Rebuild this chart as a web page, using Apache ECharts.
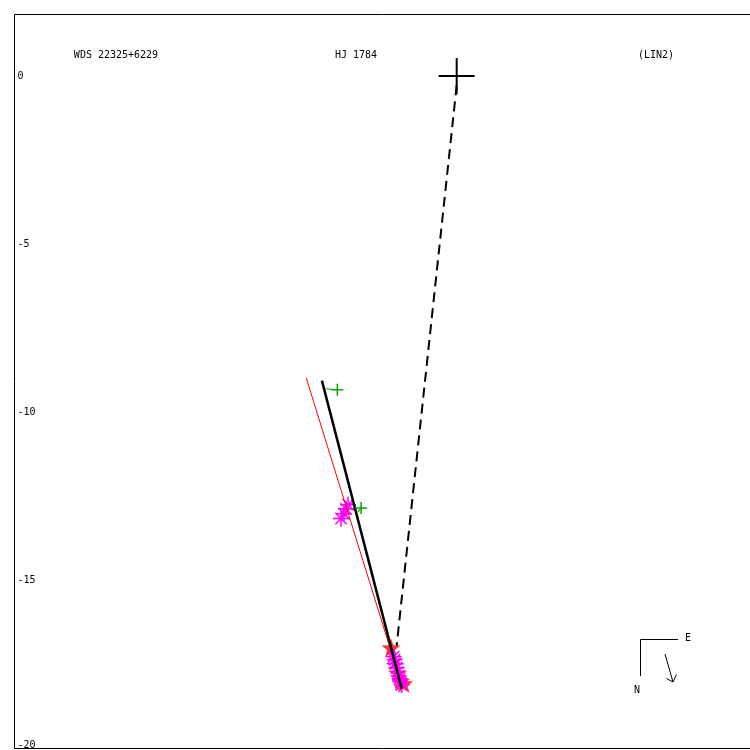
<!DOCTYPE html>
<html><head><meta charset="utf-8">
<script src="https://cdn.jsdelivr.net/npm/echarts@6/dist/echarts.min.js"></script>
<style>html,body{margin:0;padding:0;background:#fff}#c{width:750px;height:750px}</style>
</head><body><div id="c"></div>
<script>
// ---- data (arcsec) ----
const yTicks = [0, -5, -10, -15, -20];
const primary = [[0, 0]];
const orbitLine = [[-4.02, -9.06], [-1.64, -18.22]];
const fitLine = [[-4.49, -8.97], [-1.73, -17.84]];
const nodeLine = [[0, -0.28], [-1.79, -16.94]];
const greenObs = [[-3.56, -9.33], [-2.85, -12.85]];
const greenCalc = [[-3.91, -9.30], [-2.95, -12.96]];
const magentaObs = [
  [-3.24, -12.75], [-3.30, -12.87], [-3.36, -13.02], [-3.45, -13.16],
  [-1.88, -17.27], [-1.85, -17.36], [-1.82, -17.48], [-1.79, -17.60], [-1.76, -17.72],
  [-1.73, -17.84], [-1.70, -17.93], [-1.67, -18.02], [-1.64, -18.11], [-1.85, -17.47]
];
const redObs = [[-1.96, -17.00], [-1.76, -17.75], [-1.67, -17.99], [-1.58, -18.07]];
const titles = ['WDS 22325+6229', 'HJ 1784', '(LIN2)'];

const FONT = '"DejaVu Sans Mono", monospace';
const chart = echarts.init(document.getElementById('c'), null, {renderer: 'canvas'});

function crossItem(half, width, color) {
  return function (params, api) {
    const p = api.coord([api.value(0), api.value(1)]);
    return {type: 'group', children: [
      {type: 'line', shape: {x1: p[0] - half, y1: p[1], x2: p[0] + half, y2: p[1]}, style: {stroke: color, lineWidth: width}},
      {type: 'line', shape: {x1: p[0], y1: p[1] - half, x2: p[0], y2: p[1] + half}, style: {stroke: color, lineWidth: width}}
    ]};
  };
}
function asteriskItem(params, api) {
  const p = api.coord([api.value(0), api.value(1)]);
  const r = 8, d = r * 0.7071;
  const st = {stroke: '#ff00ff', lineWidth: 1.5};
  return {type: 'group', children: [
    {type: 'line', shape: {x1: p[0] - r, y1: p[1], x2: p[0] + r, y2: p[1]}, style: st},
    {type: 'line', shape: {x1: p[0], y1: p[1] - r, x2: p[0], y2: p[1] + r}, style: st},
    {type: 'line', shape: {x1: p[0] - d, y1: p[1] - d, x2: p[0] + d, y2: p[1] + d}, style: st},
    {type: 'line', shape: {x1: p[0] - d, y1: p[1] + d, x2: p[0] + d, y2: p[1] - d}, style: st}
  ]};
}
function residualItem(params, api) {
  const a = api.coord([api.value(0), api.value(1)]);
  const b = api.coord([api.value(2), api.value(3)]);
  return {type: 'line', shape: {x1: a[0], y1: a[1], x2: b[0], y2: b[1]}, style: {stroke: '#00aa00', lineWidth: 1.2}};
}

const starPath = 'path://M0,-10L2.35,-3.24L9.51,-3.09L3.8,1.24L5.88,8.09L0,4L-5.88,8.09L-3.8,1.24L-9.51,-3.09L-2.35,-3.24Z';

chart.setOption({
  animation: false,
  backgroundColor: '#fff',
  grid: {left: 14.5, top: 14.5, right: -2, bottom: 1.5, show: false},
  xAxis: {type: 'value', min: -13.19, max: 8.75, show: false},
  yAxis: {
    type: 'value', min: -20, max: 1.83, interval: 5,
    axisLine: {show: false}, axisTick: {show: false}, splitLine: {show: false},
    axisLabel: {
      inside: true, margin: 3, color: '#000', fontFamily: FONT, fontSize: 10,
      showMaxLabel: false,
      formatter: v => (yTicks.indexOf(v) >= 0 ? (v === -20 ? '{b|-20}' : String(v)) : ''),
      rich: {b: {fontFamily: FONT, fontSize: 10, color: '#000', padding: [0, 0, 7, 0]}}
    }
  },
  series: [
    {type: 'scatter', data: redObs, symbol: starPath, symbolSize: 19, itemStyle: {color: '#ff0000'}, z: 2},
    {type: 'custom', data: magentaObs, renderItem: asteriskItem, z: 3},
    {type: 'line', data: fitLine, symbol: 'none', lineStyle: {color: '#ff0000', width: 1}, z: 4},
    {type: 'line', data: orbitLine, symbol: 'none', lineStyle: {color: '#000', width: 2.5}, z: 5},
    {type: 'line', data: nodeLine, symbol: 'none', lineStyle: {color: '#000', width: 2, type: [10, 6]}, z: 5},
    {type: 'custom', data: greenCalc.map((c, i) => [c[0], c[1], greenObs[i][0], greenObs[i][1]]), renderItem: residualItem, z: 6},
    {type: 'custom', data: greenObs, renderItem: crossItem(6, 1.5, '#00aa00'), z: 6},
    {type: 'custom', data: primary, renderItem: crossItem(18, 2, '#000'), z: 7}
  ],
  graphic: [
    {type: 'polyline', shape: {points: [[752, 14.5], [14.5, 14.5], [14.5, 748.5], [752, 748.5]]}, style: {stroke: '#000', lineWidth: 1, fill: null}},
    {type: 'text', x: 116, y: 55, style: {text: titles[0], font: '10px ' + FONT, fill: '#000', align: 'center', verticalAlign: 'middle'}},
    {type: 'text', x: 356, y: 55, style: {text: titles[1], font: '10px ' + FONT, fill: '#000', align: 'center', verticalAlign: 'middle'}},
    {type: 'text', x: 656, y: 55, style: {text: titles[2], font: '10px ' + FONT, fill: '#000', align: 'center', verticalAlign: 'middle'}},
    {type: 'polyline', shape: {points: [[640.5, 676], [640.5, 639.5], [678, 639.5]]}, style: {stroke: '#000', lineWidth: 1, fill: null}},
    {type: 'text', x: 688, y: 638, style: {text: 'E', font: '10px ' + FONT, fill: '#000', align: 'center', verticalAlign: 'middle'}},
    {type: 'text', x: 637, y: 690, style: {text: 'N', font: '10px ' + FONT, fill: '#000', align: 'center', verticalAlign: 'middle'}},
    {type: 'polyline', shape: {points: [[665, 654], [673, 682]]}, style: {stroke: '#000', lineWidth: 1, fill: null}},
    {type: 'polyline', shape: {points: [[666.5, 678.5], [673, 682], [676.5, 674.5]]}, style: {stroke: '#000', lineWidth: 1, fill: null}}
  ]
});
</script></body></html>
